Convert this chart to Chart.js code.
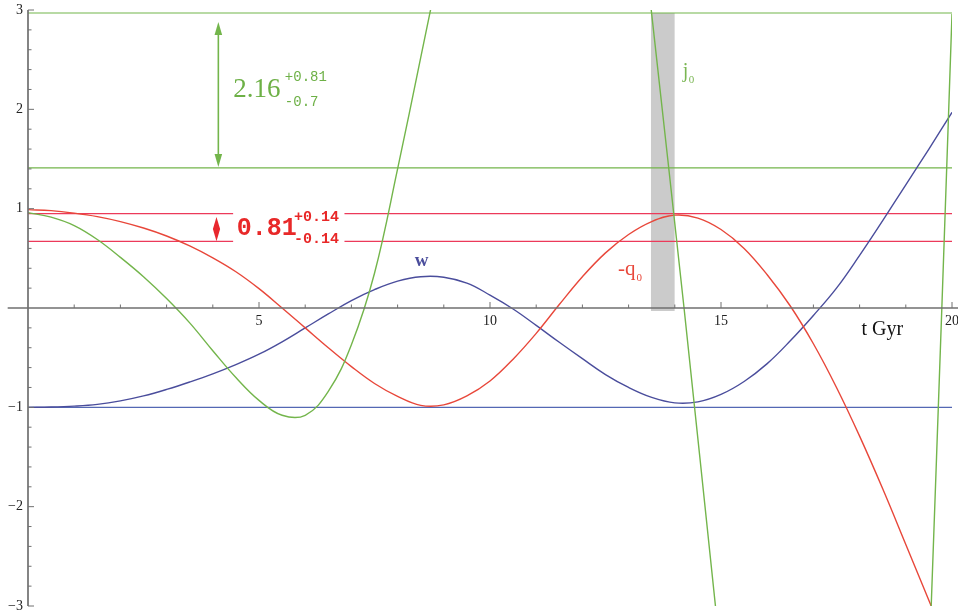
<!DOCTYPE html>
<html>
<head>
<meta charset="utf-8">
<script src="https://cdn.jsdelivr.net/npm/chart.js@4/dist/chart.umd.min.js"></script>
<style>
  html, body { margin: 0; padding: 0; background: #fff; }
  #wrap { width: 958px; height: 616px; }
</style>
</head>
<body>
<div id="wrap"><canvas id="chart"></canvas></div>
<script>
// ===== Data (every 0.5 Gyr) =====
// -q0 (deceleration, sign flipped)
const qT = [0, 0.5, 1, 1.5, 2, 2.5, 3, 3.5, 4, 4.5, 5, 5.5, 6, 6.5, 7, 7.5, 8, 8.5, 9, 9.5,
            10, 10.5, 11, 11.5, 12, 12.5, 13, 13.5, 14, 14.5, 15, 15.5, 16, 16.5, 17, 17.5, 18, 18.5, 19, 19.55];
const qV = [0.99, 0.98, 0.955, 0.92, 0.87, 0.805, 0.725, 0.625, 0.505, 0.365, 0.195, 0.0, -0.2, -0.4, -0.59, -0.76, -0.89, -0.98, -0.975, -0.885,
            -0.735, -0.515, -0.255, 0.035, 0.315, 0.555, 0.74, 0.87, 0.935, 0.905, 0.79, 0.6, 0.335, 0.02, -0.36, -0.8, -1.29, -1.82, -2.38, -3.0];

// w (equation of state)
const wT = [0, 0.5, 1, 1.5, 2, 2.5, 3, 3.5, 4, 4.5, 5, 5.5, 6, 6.5, 7, 7.5, 8, 8.5, 9, 9.5,
            10, 10.5, 11, 11.5, 12, 12.5, 13, 13.5, 14, 14.5, 15, 15.5, 16, 16.5, 17, 17.5, 18, 18.5, 19, 19.5, 20];
const wV = [-1.0, -0.997, -0.988, -0.97, -0.935, -0.885, -0.82, -0.745, -0.663, -0.57, -0.465, -0.34, -0.2, -0.06, 0.075, 0.185, 0.27, 0.315, 0.31, 0.25,
            0.13, -0.01, -0.175, -0.345, -0.51, -0.67, -0.8, -0.9, -0.955, -0.945, -0.87, -0.74, -0.56, -0.33, -0.075, 0.2, 0.53, 0.88, 1.24, 1.6, 1.97];

// j0 (jerk), null = the curve leaves the frame
const jT = [0, 0.5, 1, 1.5, 2, 2.5, 3, 3.5, 4, 4.5, 5, 5.5, 6, 6.5, 7, 7.5, 8, 8.5, 9,
            11, 13.44, 13.49, 14.2, 14.88, 14.93, 17, 19.53, 19.55, 19.78, 20];
const jV = [0.96, 0.915, 0.83, 0.69, 0.51, 0.315, 0.095, -0.15, -0.43, -0.7, -0.93, -1.08, -1.08, -0.84, -0.37, 0.35, 1.4, 2.52, 3.65,
            null, 3.21, 3.0, 0.0, -3.0, -3.2, null, -3.26, -3.0, 0.0, 2.96];

// observational bands
const jLevels = [2.97, 1.41];        // 2.16 +0.81 -0.7
const qLevels = [0.95, 0.67];        // 0.81 +-0.14
const qGap = [4.44, 6.85];           // red lines break for the label
const wLevel = -1;
const ageBand = [13.48, 14.0];       // grey strip
const ageBandY = [-0.03, 2.97];

// axes
const xRange = [0, 20];
const yRange = [-3, 3];
const xMajorTicks = [5, 10, 15, 20];
const yMajorTicks = [-3, -2, -1, 1, 2, 3];

const GREEN = "#73b54b";
const RED = "#e8473a";
const RED_LINE = "#ec3a5a";
const BLUE = "#4a4d9c";
const BLUE_LINE = "#5468b4";

const pts = (xs, ys) => xs.map((x, i) => ({ x: x, y: ys[i] }));
const hline = (y, x0, x1) => [{ x: x0, y: y }, { x: x1, y: y }];

function flat(data, color, order) {
    return { data: data, borderColor: color, borderWidth: 1.2, pointRadius: 0, fill: false, tension: 0, order: order };
}

function curve(label, data, color, order) {
    return { label: label, data: data, borderColor: color, borderWidth: 1.4, pointRadius: 0,
             tension: 0.4, spanGaps: false, order: order };
}

const datasets = [
    // grey strip
    {
        data: hline(ageBandY[1], ageBand[0], ageBand[1]),
        borderWidth: 0, pointRadius: 0,
        backgroundColor: "#cbcbcb",
        fill: { value: ageBandY[0] },
        order: 20
    },
    flat(hline(jLevels[0], xRange[0], xRange[1]), GREEN, 10),
    flat(hline(jLevels[1], xRange[0], xRange[1]), GREEN, 10),
    flat(hline(qLevels[0], xRange[0], qGap[0]), RED_LINE, 10),
    flat(hline(qLevels[0], qGap[1], xRange[1]), RED_LINE, 10),
    flat(hline(qLevels[1], xRange[0], qGap[0]), RED_LINE, 10),
    flat(hline(qLevels[1], qGap[1], xRange[1]), RED_LINE, 10),
    flat(hline(wLevel, xRange[0], xRange[1]), BLUE_LINE, 10),
    // curves
    curve("w", pts(wT, wV), BLUE, 3),
    curve("-q0", pts(qT, qV), RED, 2),
    curve("j0", pts(jT, jV), GREEN, 1)
];

// ===== Arrows, axes and labels =====
function arrowHead(ctx, x, y, dir, len, half) {
    ctx.beginPath();
    ctx.moveTo(x, y);
    ctx.lineTo(x - half, y + dir * len);
    ctx.lineTo(x + half, y + dir * len);
    ctx.closePath();
    ctx.fill();
}

const overlay = {
    id: "overlay",
    afterDatasetsDraw(chart) {
        const ctx = chart.ctx;
        const X = v => chart.scales.x.getPixelForValue(v);
        const Y = v => chart.scales.y.getPixelForValue(v);

        ctx.save();

        // axes
        ctx.strokeStyle = "#707070";
        ctx.lineWidth = 1.7;
        ctx.beginPath();
        ctx.moveTo(X(-0.44), Y(0));
        ctx.lineTo(chart.width, Y(0));
        ctx.moveTo(X(0), Y(yRange[0]));
        ctx.lineTo(X(0), Y(yRange[1]));
        ctx.stroke();

        ctx.lineWidth = 1;
        ctx.beginPath();
        for (let t = 1; t <= xRange[1]; t++) {
            const len = xMajorTicks.includes(t) ? 6 : 3.5;
            ctx.moveTo(X(t), Y(0));
            ctx.lineTo(X(t), Y(0) - len);
        }
        for (let k = -15; k <= 15; k++) {
            if (k === 0) continue;
            const v = k / 5;
            const len = k % 5 === 0 ? 6 : 3.5;
            ctx.moveTo(X(0), Y(v));
            ctx.lineTo(X(0) + len, Y(v));
        }
        ctx.stroke();

        // tick labels
        ctx.fillStyle = "#222";
        ctx.font = "14px 'Liberation Serif'";
        ctx.textAlign = "center";
        ctx.textBaseline = "top";
        xMajorTicks.forEach(t => ctx.fillText(String(t), X(t), Y(0) + 6));
        ctx.textAlign = "right";
        ctx.textBaseline = "middle";
        yMajorTicks.forEach(v => ctx.fillText(v < 0 ? "\u2212" + (-v) : String(v), X(0) - 5, Y(v)));

        // green double arrow
        ctx.strokeStyle = GREEN;
        ctx.fillStyle = GREEN;
        ctx.lineWidth = 1.6;
        const ax = X(4.12), top = Y(2.88), bot = Y(1.42);
        ctx.beginPath();
        ctx.moveTo(ax, top + 8);
        ctx.lineTo(ax, bot - 8);
        ctx.stroke();
        arrowHead(ctx, ax, top, 1, 13, 3.8);
        arrowHead(ctx, ax, bot, -1, 13, 3.8);

        // red diamond arrow
        ctx.fillStyle = "#e8282e";
        const dx = X(4.08), dTop = Y(0.917), dBot = Y(0.672), mid = (dTop + dBot) / 2;
        arrowHead(ctx, dx, dTop, 1, mid - dTop, 3.6);
        arrowHead(ctx, dx, dBot, -1, dBot - mid, 3.6);

        // 2.16 +0.81 -0.7
        ctx.textAlign = "left";
        ctx.textBaseline = "alphabetic";
        ctx.fillStyle = "#6db046";
        ctx.font = "27px 'Liberation Serif'";
        ctx.fillText("2.16", X(4.44), Y(2.12));
        ctx.font = "14px 'Liberation Mono'";
        ctx.textBaseline = "middle";
        ctx.fillText("+0.81", X(5.56), Y(2.32));
        ctx.fillText("-0.7", X(5.56), Y(2.07));

        // 0.81 +-0.14
        ctx.fillStyle = "#e82828";
        ctx.textBaseline = "alphabetic";
        ctx.font = "bold 25px 'Liberation Mono'";
        ctx.fillText("0.81", X(4.52), Y(0.733));
        ctx.font = "bold 15px 'Liberation Mono'";
        ctx.textBaseline = "middle";
        ctx.fillText("+0.14", X(5.76), Y(0.915));
        ctx.fillText("-0.14", X(5.76), Y(0.69));

        // curve names
        ctx.textBaseline = "alphabetic";
        ctx.fillStyle = BLUE;
        ctx.font = "bold 19px 'Liberation Serif'";
        ctx.textAlign = "center";
        ctx.fillText("w", X(8.52), Y(0.42));

        ctx.textAlign = "left";
        ctx.fillStyle = RED;
        ctx.font = "21px 'Liberation Serif'";
        ctx.fillText("-q", X(12.77), Y(0.33));
        ctx.font = "11px 'Liberation Serif'";
        ctx.fillText("0", X(13.17), Y(0.27));

        ctx.fillStyle = "#7ab653";
        ctx.font = "20px 'Liberation Serif'";
        ctx.fillText("j", X(14.17), Y(2.33));
        ctx.font = "11px 'Liberation Serif'";
        ctx.fillText("0", X(14.3), Y(2.27));

        ctx.fillStyle = "#111";
        ctx.font = "20px 'Liberation Serif'";
        ctx.fillText("t Gyr", X(18.04), Y(-0.27));

        ctx.restore();
    }
};

new Chart(document.getElementById("chart"), {
    type: "line",
    data: { datasets: datasets },
    options: {
        responsive: true,
        maintainAspectRatio: false,
        animation: false,
        layout: { padding: { left: 28, right: 6, top: 10, bottom: 10 } },
        plugins: { legend: { display: false }, tooltip: { enabled: false } },
        scales: {
            x: { type: "linear", min: xRange[0], max: xRange[1], display: false },
            y: { type: "linear", min: yRange[0], max: yRange[1], display: false }
        }
    },
    plugins: [overlay]
});
</script>
</body>
</html>
